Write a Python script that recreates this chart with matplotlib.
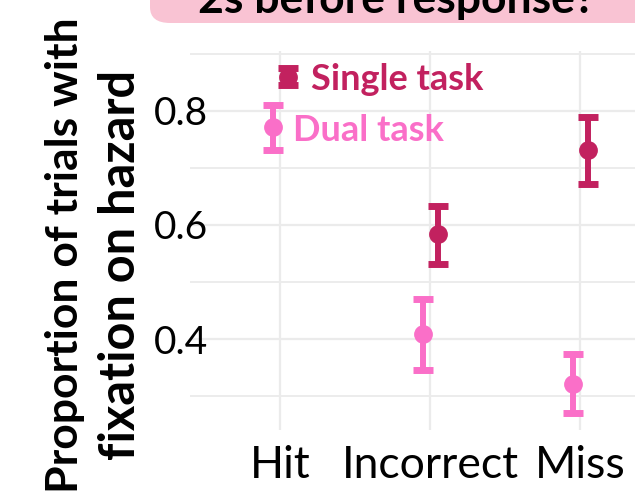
import numpy as np
import matplotlib
matplotlib.use('Agg')
import matplotlib.pyplot as plt
from matplotlib.patches import FancyBboxPatch

plt.rcParams['font.family'] = ['Lato', 'DejaVu Sans']

# fixation on hazard, 2 s before the response
categories = ['Hit', 'Incorrect', 'Miss']
single_mean = [0.860, 0.584, 0.732]
single_lo = [0.846, 0.532, 0.672]
single_hi = [0.875, 0.633, 0.790]
dual_mean = [0.771, 0.408, 0.322]
dual_lo = [0.732, 0.345, 0.270]
dual_hi = [0.810, 0.470, 0.374]

single_col = '#C2215F'
dual_col = '#FA6FC8'
grid_col = '#EBEBEB'

W, H = 635, 493
fig = plt.figure(figsize=(W / 100, H / 100), dpi=100)

# panel runs past the right edge of the figure
left, right, top, bottom = 190, 670, 51, 430
ax = fig.add_axes([left / W, 1 - bottom / H, (right - left) / W, (bottom - top) / H])

x = np.arange(1, len(categories) + 1)
dodge = 0.05

def draw_series(xs, m, lo, hi, col):
    m = np.array(m)
    err = [m - np.array(lo), np.array(hi) - m]
    ax.errorbar(xs, m, yerr=err, fmt='o', color=col, ms=12.5, elinewidth=4.3,
                capsize=7, capthick=5, zorder=3)

draw_series(x - dodge, dual_mean, dual_lo, dual_hi, dual_col)
draw_series(x + dodge, single_mean, single_lo, single_hi, single_col)

ax.annotate('Single task', (x[0] + dodge, single_mean[0]), xytext=(17, 0),
            textcoords='offset points', color=single_col, fontsize=26,
            fontweight='bold', va='center_baseline', ha='left')
ax.annotate('Dual task', (x[0] - dodge, dual_mean[0]), xytext=(14.5, 0),
            textcoords='offset points', color=dual_col, fontsize=26,
            fontweight='bold', va='center_baseline', ha='left')

ax.set_xlim(0.4, 3.6)
ax.set_ylim(0.2405, 0.905)
ax.set_xticks(x)
ax.set_xticklabels(categories)
ax.set_yticks([0.4, 0.6, 0.8])
ax.set_yticklabels(['0.4', '0.6', '0.8'])
ax.set_yticks([0.3, 0.5, 0.7, 0.9], minor=True)

ax.grid(True, which='major', color=grid_col, lw=1.6)
ax.grid(True, which='minor', axis='y', color=grid_col, lw=1.3)
ax.set_axisbelow(True)
for s in ax.spines.values():
    s.set_visible(False)
ax.tick_params(axis='both', which='both', length=0)
ax.tick_params(axis='y', labelsize=28, pad=-13)
ax.tick_params(axis='x', labelsize=32, pad=11)

# y axis title, two lines
fig.text(78 / W, 1 - 255 / H, 'Proportion of trials with', rotation=90,
         rotation_mode='anchor', ha='center', va='baseline',
         fontsize=32, fontweight='bold')
fig.text(135 / W, 1 - 265 / H, 'fixation on hazard', rotation=90,
         rotation_mode='anchor', ha='center', va='baseline',
         fontsize=35, fontweight='bold')

# title box
box = FancyBboxPatch((150 / W, 1 - 23 / H), 600 / W, 60 / H,
                     boxstyle='round,pad=0,rounding_size=0.032',
                     transform=fig.transFigure, facecolor='#F9C3D3',
                     edgecolor='none', zorder=0)
fig.patches.append(box)
fig.text(397 / W, 1 - 13 / H, '2s before response?', ha='center',
         va='baseline', fontsize=32, fontweight='bold')

fig.savefig('out.png', dpi=100)
